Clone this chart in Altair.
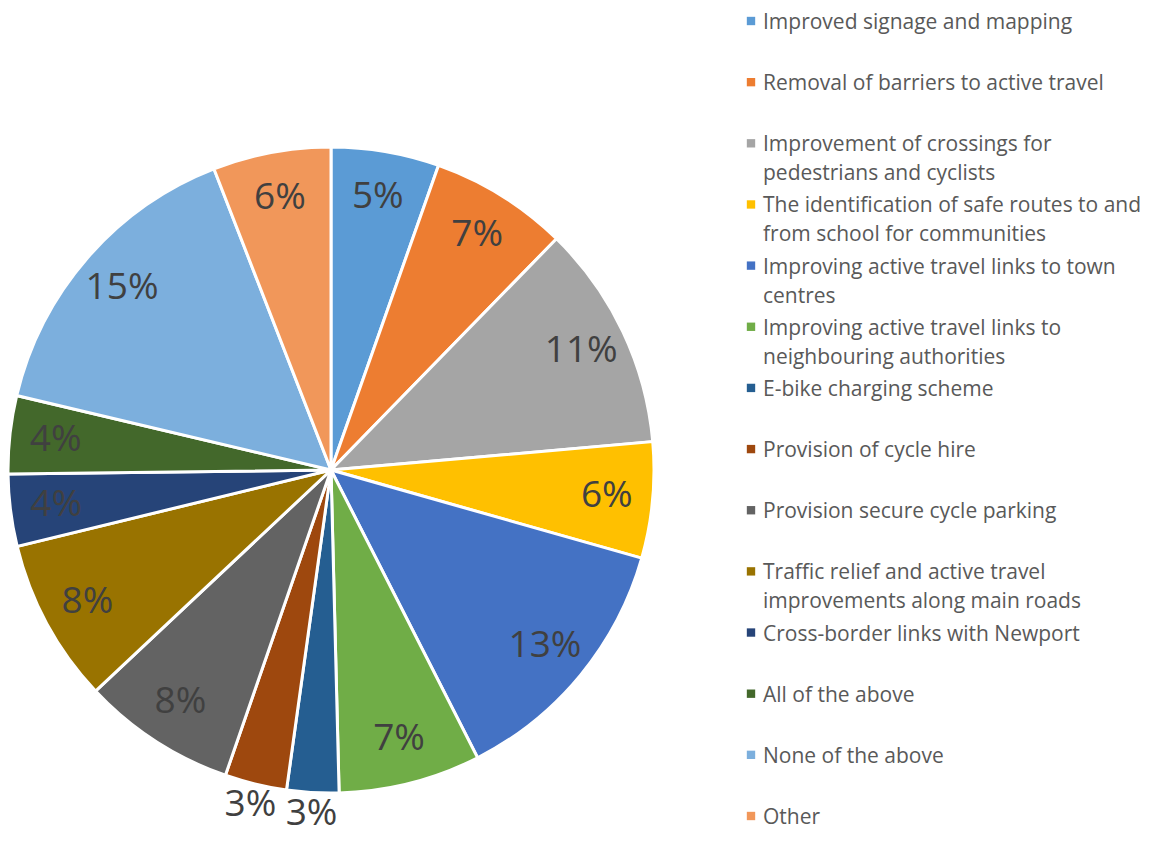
import altair as alt
import pandas as pd

categories = [
    "Improved signage and mapping",
    "Removal of barriers to active travel",
    "Improvement of crossings for pedestrians and cyclists",
    "The identification of safe routes to and from school for communities",
    "Improving active travel links to town centres",
    "Improving active travel links to neighbouring authorities",
    "E-bike charging scheme",
    "Provision of cycle hire",
    "Provision secure cycle parking",
    " Traffic relief and active travel improvements along main roads",
    "Cross-border links with Newport",
    "All of the above",
    "None of the above",
    "Other",
]
legend_labels = [
    "Improved signage and mapping",
    "Removal of barriers to active travel",
    "Improvement of crossings for\npedestrians and cyclists",
    "The identification of safe routes to and\nfrom school for communities",
    "Improving active travel links to town\ncentres",
    "Improving active travel links to\nneighbouring authorities",
    "E-bike charging scheme",
    "Provision of cycle hire",
    "Provision secure cycle parking",
    " Traffic relief and active travel\nimprovements along main roads",
    "Cross-border links with Newport",
    "All of the above",
    "None of the above",
    "Other",
]
values = [5.4, 6.9, 11.3, 5.8, 13.1, 7.1, 2.6, 3.1, 7.7, 8.2, 3.6, 3.9, 15.4, 5.9]
pct_labels = ["5%", "7%", "11%", "6%", "13%", "7%", "3%", "3%", "8%", "8%", "4%", "4%", "15%", "6%"]
colors = ["#5B9BD5", "#ED7D31", "#A5A5A5", "#FFC000", "#4472C4", "#70AD47", "#255E91",
          "#9E480E", "#636363", "#997300", "#264478", "#43682B", "#7CAFDD", "#F1975A"]

df = pd.DataFrame({
    "idx": list(range(len(categories))),
    "cat": categories,
    "legend": legend_labels,
    "value": values,
    "pct": pct_labels,
})

color_scale = alt.Scale(domain=categories, range=colors)
CX, CY = 323, 462
FONT = "Open Sans"

base = alt.Chart(df).encode(
    theta=alt.Theta("value:Q", stack=True),
    order=alt.Order("idx:Q"),
    x=alt.value(CX),
    y=alt.value(CY),
)

arcs = base.mark_arc(radius=323, stroke="white", strokeWidth=3).encode(
    color=alt.Color("cat:N", scale=color_scale, legend=None)
)

inside = base.mark_text(radius=277, font=FONT, fontSize=37, color="#404040",
                        align="center", baseline="middle").encode(
    text=alt.condition("datum.value >= 3.3", alt.Text("pct:N"), alt.value(""))
)

outside = base.mark_text(radius=345, font=FONT, fontSize=37, color="#404040",
                         align="center", baseline="middle").encode(
    text=alt.condition("datum.value < 3.3", alt.Text("pct:N"), alt.value(""))
)

ypos = alt.Y("idx:Q", scale=alt.Scale(domain=[0, 13], range=[13, 808]), axis=None)

leg_sq = alt.Chart(df).mark_square(size=70, opacity=1).encode(
    x=alt.value(743),
    y=ypos,
    color=alt.Color("cat:N", scale=color_scale, legend=None),
)

leg_txt = alt.Chart(df).mark_text(font=FONT, fontSize=21, color="#595959", align="left",
                                  baseline="top", dy=-9, lineBreak="\n", lineHeight=29).encode(
    x=alt.value(755),
    y=ypos,
    text="legend:N",
)

chart = alt.layer(arcs, inside, outside, leg_sq, leg_txt).properties(
    width=1136, height=829, padding=0, autosize="none"
).configure_view(stroke=None)

chart.save("out.html", embed_options={"renderer": "svg", "actions": False})
